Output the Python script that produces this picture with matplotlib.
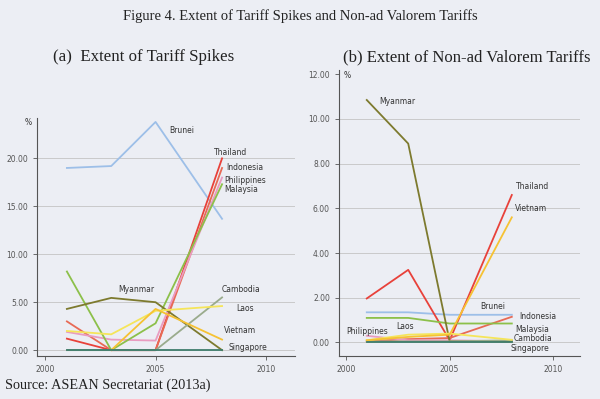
import numpy as np
import matplotlib.pyplot as plt

years = [2001, 2003, 2005, 2008]
countries = ["Brunei", "Thailand", "Indonesia", "Philippines", "Malaysia",
             "Myanmar", "Cambodia", "Laos", "Vietnam", "Singapore"]
colors = {"Brunei": "#9dbfe8", "Thailand": "#e8413a", "Indonesia": "#e86a55",
          "Philippines": "#e99cc0", "Malaysia": "#8cc04a", "Myanmar": "#7d7a2e",
          "Cambodia": "#9aab8c", "Laos": "#f5e55a", "Vietnam": "#f6c233",
          "Singapore": "#3f7d6c"}

# (a) tariff spikes, %
spikes = {
    "Brunei":      [19.0, 19.2, 23.8, 13.7],
    "Thailand":    [1.2, 0.0, 0.0, 20.0],
    "Indonesia":   [3.0, 0.0, 0.0, 19.0],
    "Philippines": [1.9, 1.1, 1.0, 18.0],
    "Malaysia":    [8.2, 0.0, 2.8, 17.3],
    "Myanmar":     [4.3, 5.45, 5.0, 0.0],
    "Cambodia":    [0.0, 0.0, 0.0, 5.5],
    "Laos":        [2.0, 1.65, 4.1, 4.6],
    "Vietnam":     [np.nan, 0.0, 4.3, 1.1],
    "Singapore":   [0.0, 0.0, 0.0, 0.0],
}
# (b) non-ad valorem tariffs, %
nav = {
    "Brunei":      [1.35, 1.35, 1.24, 1.24],
    "Thailand":    [1.97, 3.25, 0.1, 6.6],
    "Indonesia":   [0.05, 0.15, 0.2, 1.15],
    "Philippines": [0.3, 0.1, 0.1, 0.05],
    "Malaysia":    [1.1, 1.1, 0.85, 0.85],
    "Myanmar":     [10.85, 8.9, 0.05, 0.05],
    "Cambodia":    [0.05, 0.05, 0.05, 0.1],
    "Laos":        [0.1, 0.35, 0.4, 0.12],
    "Vietnam":     [0.1, 0.25, 0.35, 5.6],
    "Singapore":   [0.0, 0.0, 0.0, 0.0],
}

labels_a = {"Brunei": (2005.6, 22.9), "Thailand": (2007.65, 20.6),
            "Indonesia": (2008.2, 19.1), "Philippines": (2008.1, 17.7),
            "Malaysia": (2008.1, 16.8), "Myanmar": (2003.3, 6.35),
            "Cambodia": (2008.0, 6.35), "Laos": (2008.65, 4.3),
            "Vietnam": (2008.1, 2.0), "Singapore": (2008.3, 0.3)}
labels_b = {"Myanmar": (2001.6, 10.8), "Thailand": (2008.2, 7.0),
            "Vietnam": (2008.15, 6.0), "Brunei": (2006.5, 1.6),
            "Indonesia": (2008.35, 1.15), "Malaysia": (2008.15, 0.6),
            "Cambodia": (2008.1, 0.2), "Singapore": (2007.95, -0.28),
            "Philippines": (2000.0, 0.5), "Laos": (2002.4, 0.7)}

bg = "#eceef4"
fig = plt.figure(figsize=(6, 3.99), dpi=100, facecolor=bg)

ax1 = fig.add_axes([0.062, 0.108, 0.43, 0.596])
ax2 = fig.add_axes([0.565, 0.108, 0.402, 0.717])


def draw(ax, data, labels, yticks, ylim):
    ax.set_facecolor(bg)
    for c in countries:
        ax.plot(years, data[c], color=colors[c], lw=1.3)
    for c, (x, y) in labels.items():
        ax.text(x, y, c, fontsize=5.5, color="#333333", va="center", ha="left")
    ax.set_xlim(1999.66, 2011.3)
    ax.set_ylim(*ylim)
    ax.set_xticks([2000, 2005, 2010])
    ax.set_yticks(yticks)
    ax.set_yticklabels(["%.2f" % v for v in yticks])
    for v in yticks:
        if v < ylim[1] - 0.5:
            ax.axhline(v, color="#c4c4c4", lw=0.6, zorder=0)
    for s in ["top", "right"]:
        ax.spines[s].set_visible(False)
    for s in ["left", "bottom"]:
        ax.spines[s].set_color("#555555")
    ax.tick_params(labelsize=5.5, colors="#555555", length=3, width=0.6)


draw(ax1, spikes, labels_a, [0, 5, 10, 15, 20], (-0.6, 24.2))
ax1.text(-0.05, 0.97, "%", transform=ax1.transAxes, fontsize=5.5, color="#333333")
draw(ax2, nav, labels_b, [0, 2, 4, 6, 8, 10, 12], (-0.6, 12.2))
ax2.text(0.02, 0.97, "%", transform=ax2.transAxes, fontsize=5.5, color="#333333")

fig.text(0.5, 0.96, "Figure 4. Extent of Tariff Spikes and Non-ad Valorem Tariffs",
         ha="center", va="center", family="Liberation Serif", fontsize=10.5, color="#222222")
fig.text(0.239, 0.857, "(a)  Extent of Tariff Spikes", ha="center", va="center",
         family="Liberation Serif", fontsize=12.2, color="#222222")
fig.text(0.778, 0.857, "(b) Extent of Non-ad Valorem Tariffs", ha="center", va="center",
         family="Liberation Serif", fontsize=12, color="#222222")
fig.text(0.008, 0.035, "Source: ASEAN Secretariat (2013a)", ha="left", va="center",
         family="Liberation Serif", fontsize=10.3, color="#222222")

plt.savefig("out.png", dpi=100, facecolor=bg)
